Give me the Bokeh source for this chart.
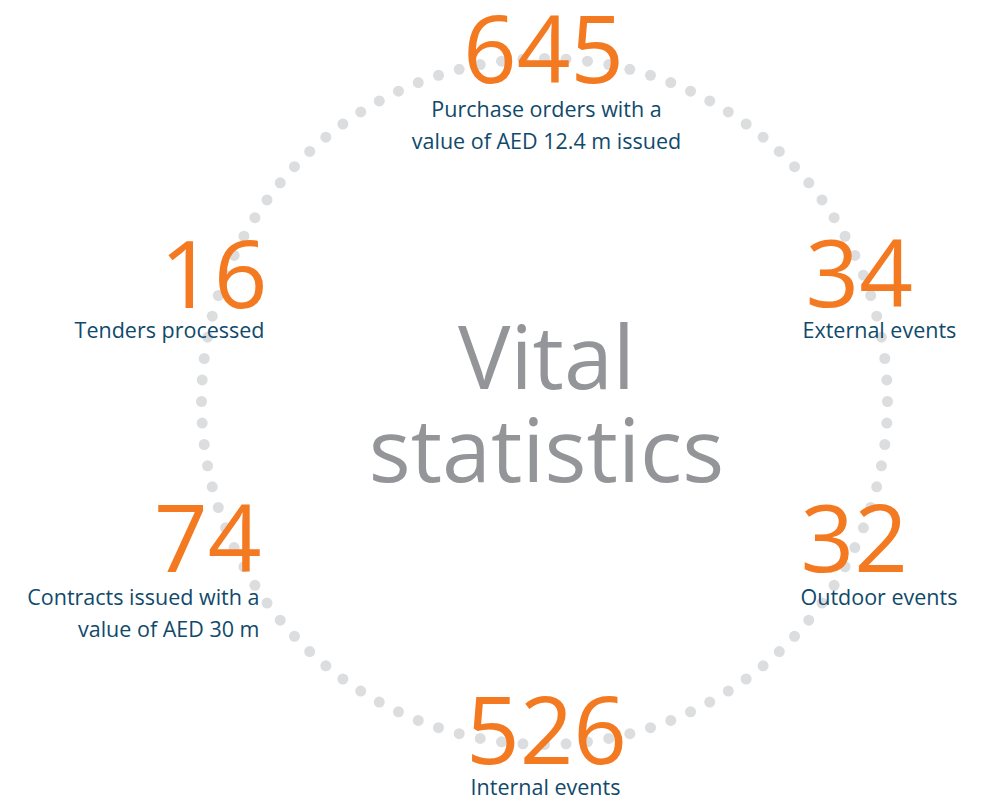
import numpy as np
from bokeh.plotting import figure
from bokeh.models import Range1d, ColumnDataSource
from bokeh.core.properties import value
from bokeh.embed import file_html
from bokeh.resources import INLINE

# ---- data ----
title_lines = ["Vital", "statistics"]
stat_values = ["645", "16", "34", "74", "32", "526"]
stat_captions = [
    ["Purchase orders with a", "value of AED 12.4 m issued"],
    ["Tenders processed"],
    ["External events"],
    ["Contracts issued with a", "value of AED 30 m"],
    ["Outdoor events"],
    ["Internal events"],
]
n_dots = 100

# ---- layout / style ----
W, H = 980, 802
ORANGE = "#f47a22"
NAVY = "#104a6b"
GREY = "#939598"
DOT = "#dcdddf"
FONT = "Open Sans"

NUM_FS, CAP_FS, TITLE_FS = 94, 21.5, 88
K = 0.40  # empirical baseline correction (fraction of font size)
NUM_ADJ = 3

cx, cy, r = 544, 401, 343
num_x = [543, 267, 805, 261, 800, 546]
num_y = [84, 309, 308, 573, 573, 765]
num_align = ["center", "right", "left", "right", "left", "center"]
cap_x = [546, 264, 802, 259, 800, 545]
cap_y0 = [117, 338, 338, 605, 605, 795]
cap_dy = 32
title_x = 546
title_y = [390, 483]

p = figure(width=W, height=H, x_range=Range1d(0, W), y_range=Range1d(H, 0),
           output_backend="svg", toolbar_location=None, min_border=0)
p.axis.visible = False
p.grid.visible = False
p.outline_line_color = None
p.background_fill_color = "white"
p.border_fill_color = "white"

# dotted ring
theta = 2 * np.pi * np.arange(n_dots) / n_dots
p.scatter(cx + r * np.cos(theta), cy + r * np.sin(theta), size=11,
          fill_color=DOT, line_color=None)

# title
p.text(x=[title_x] * 2, y=[v - K * TITLE_FS for v in title_y], text=title_lines,
       text_font=value(FONT), text_font_size=f"{TITLE_FS}px", text_color=GREY,
       text_align="center", text_baseline="alphabetic")

# numbers
nsrc = ColumnDataSource(dict(x=num_x, y=[v - K * NUM_FS + NUM_ADJ for v in num_y],
                             t=stat_values, a=num_align))
p.text(x="x", y="y", text="t", text_align="a", source=nsrc,
       text_font=value(FONT), text_font_size=f"{NUM_FS}px", text_color=ORANGE,
       text_baseline="alphabetic")

# captions
cx_l, cy_l, ct_l, ca_l = [], [], [], []
for i, lines in enumerate(stat_captions):
    for j, line in enumerate(lines):
        cx_l.append(cap_x[i])
        cy_l.append(cap_y0[i] + j * cap_dy - K * CAP_FS)
        ct_l.append(line)
        ca_l.append(num_align[i])
csrc = ColumnDataSource(dict(x=cx_l, y=cy_l, t=ct_l, a=ca_l))
p.text(x="x", y="y", text="t", text_align="a", source=csrc,
       text_font=value(FONT), text_font_size=f"{CAP_FS}px", text_color=NAVY,
       text_baseline="alphabetic")

open("out.html", "w").write(file_html(p, INLINE))
